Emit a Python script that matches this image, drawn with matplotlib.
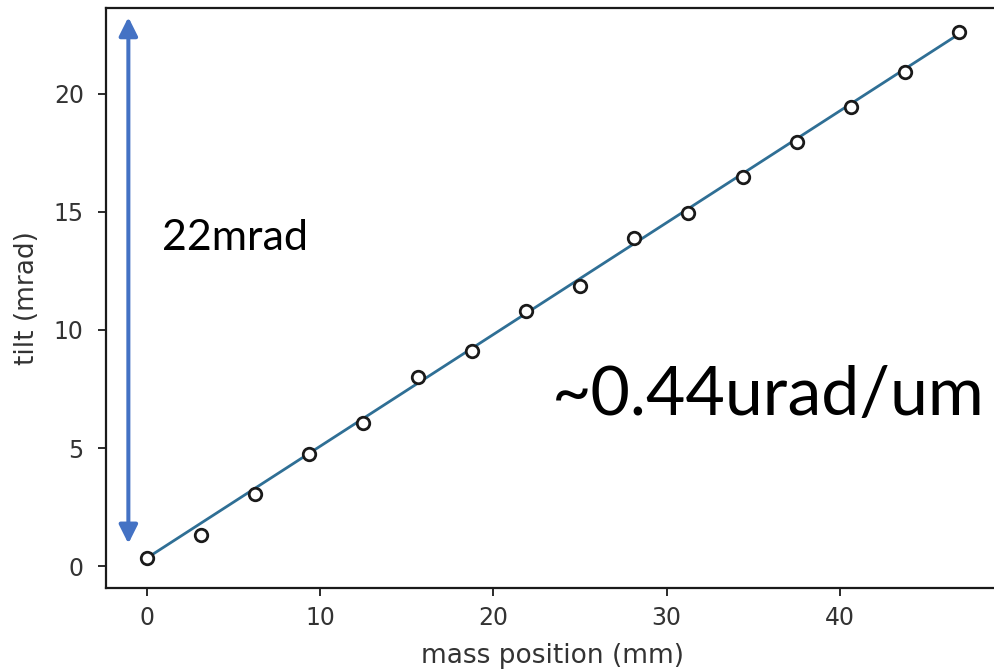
import matplotlib
matplotlib.use("Agg")
import matplotlib.pyplot as plt

# data
mass_position = [0.0, 3.13, 6.25, 9.38, 12.5, 15.63, 18.75, 21.88, 25.0,
                 28.13, 31.25, 34.38, 37.5, 40.63, 43.75, 46.88]
tilt = [0.33, 1.31, 3.04, 4.73, 6.07, 7.99, 9.12, 10.82, 11.88,
        13.91, 14.94, 16.5, 17.98, 19.43, 20.92, 22.61]
fit_x = [0.0, 46.88]
fit_y = [0.33, 22.55]
x_ticks = [0, 10, 20, 30, 40]
y_ticks = [0, 5, 10, 15, 20]
arrow_x = -1.05
arrow_y = [0.95, 23.25]
span_label = "22mrad"
slope_label = "~0.44urad/um"

fig = plt.figure(figsize=(9.95, 6.71), dpi=100)
ax = fig.add_axes([106/995, 1-588/671, (1000-106)/995, (588-8)/671])

ax.plot(fit_x, fit_y, color="#2f6f95", lw=2.0, zorder=2)
ax.plot(mass_position, tilt, ls="none", marker="o", ms=9, mfc="white",
        mec="#1a1a1a", mew=2.0, zorder=3)

ax.set_xlim(-2.34, 49.22)
ax.set_ylim(-0.93, 23.64)
ax.set_xticks(x_ticks)
ax.set_yticks(y_ticks)
ax.tick_params(labelsize=17, length=6, width=1.3, colors="#1a1a1a",
               labelcolor="#333333")
ax.tick_params(axis="x", pad=7)
ax.tick_params(axis="y", pad=10)
for s in ax.spines.values():
    s.set_linewidth(1.6)
    s.set_color("#1a1a1a")
ax.set_xlabel("mass position (mm)", fontsize=19, color="#333333", labelpad=9)
ax.set_ylabel("tilt (mrad)", fontsize=19, color="#333333", labelpad=10)

ax.annotate("", xy=(arrow_x, arrow_y[1]), xytext=(arrow_x, arrow_y[0]),
            xycoords="data", textcoords="data",
            arrowprops=dict(arrowstyle="<|-|>,head_length=0.7,head_width=0.35",
                            color="#4472C4", lw=2.9, mutation_scale=16,
                            shrinkA=0, shrinkB=0), zorder=4, annotation_clip=False)

ax.text(0.87, 13.4, span_label, fontsize=31, family="Lato", va="baseline",
        ha="left", color="black")
ax.text(23.37, 6.4, slope_label, fontsize=49, family="Lato", va="baseline",
        ha="left", color="black")

fig.savefig("out.png", dpi=100)
